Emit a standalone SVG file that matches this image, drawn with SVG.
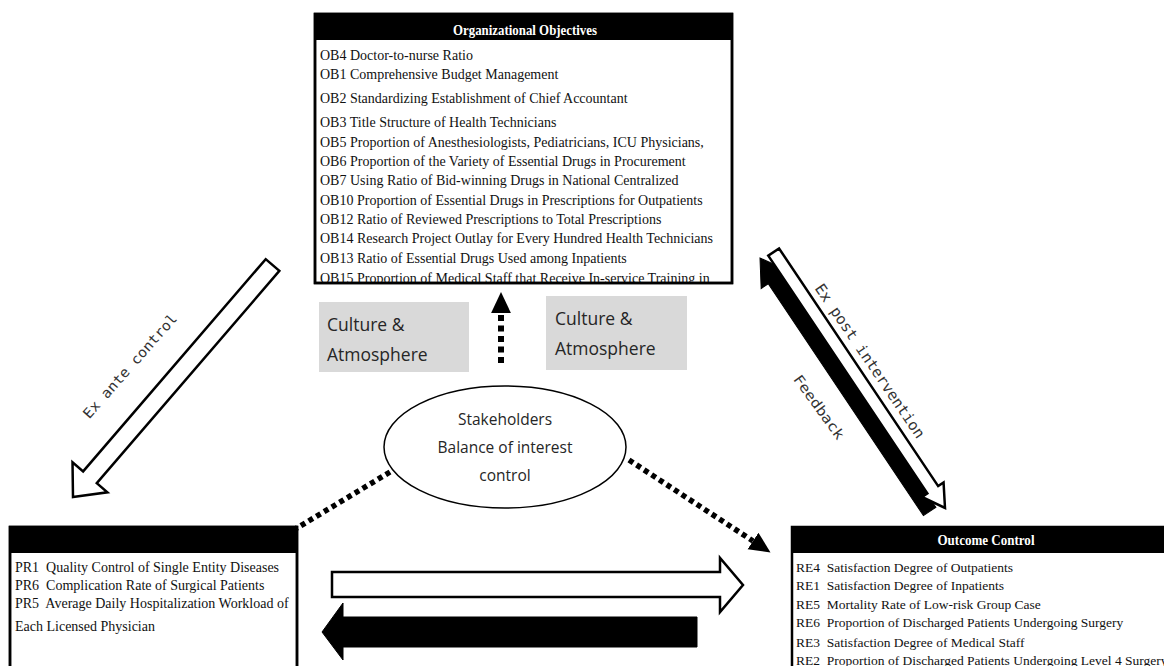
<svg xmlns="http://www.w3.org/2000/svg" width="1164" height="666" viewBox="0 0 1164 666">
<style>
.box{fill:#fff;stroke:#000;stroke-width:2.5}
.hd{fill:#000}
.ht{font-family:"Liberation Serif","Times New Roman",serif;font-weight:bold;font-size:14px;fill:#fff;text-anchor:middle}
.t{font-family:"Liberation Serif","Times New Roman",serif;font-size:14px;fill:#111}
.r{font-family:"Liberation Serif","Times New Roman",serif;font-size:13.5px;fill:#111}
.cb{fill:#d9d9d9}
.ct{font-family:"Open Sans","Noto Sans",sans-serif;font-size:17.5px;fill:#262626}
.et{font-family:"Open Sans","Noto Sans",sans-serif;font-size:15.5px;fill:#262626;text-anchor:middle}
.lb{font-family:"DejaVu Sans Mono","Liberation Mono",monospace;font-size:14px;fill:#333;text-anchor:middle}
.wa{fill:#fff;stroke:#000;stroke-width:2.5;stroke-linejoin:miter}
.ba{fill:#000;stroke:#000;stroke-width:1}
.dot{fill:none;stroke:#000;stroke-width:5.5;stroke-dasharray:5 4}
</style>
<defs>
<clipPath id="clipTop"><rect x="316" y="15" width="415" height="267"/></clipPath>
<clipPath id="clipLeft"><rect x="11" y="528" width="285" height="140"/></clipPath>
<marker id="tri" markerUnits="userSpaceOnUse" markerWidth="22" markerHeight="22" viewBox="0 -10 20 20" refX="0" refY="0" orient="auto">
<path d="M0,-9 L19,0 L0,9 z" fill="#000"/>
</marker>
</defs>
<rect width="1164" height="666" fill="#fff"/>

<g id="connectors">
<polygon class="wa" points="0,0 -26,-23 -26,-9 -306,-9 -306,9 -26,9 -26,23" transform="translate(73,497) rotate(130.7)"/>
<text class="lb" textLength="134" lengthAdjust="spacingAndGlyphs" dy="0.35em" transform="translate(130,366) rotate(-48.6)">Ex ante control</text>
<polygon class="ba" points="0,0 -26,-16 -26,-7.5 -305,-7.5 -305,7.5 -26,7.5 -26,16" transform="translate(760,258) rotate(236.2)"/>
<polygon class="wa" points="0,0 -22,-13 -22,-6.5 -308,-6.5 -308,6.5 -22,6.5 -22,13" transform="translate(945,508) rotate(56.2)"/>
<text class="lb" style="font-size:15px" textLength="183" lengthAdjust="spacingAndGlyphs" dy="0.35em" transform="translate(870,361) rotate(55.8)">Ex post intervention</text>
<text class="lb" textLength="76" lengthAdjust="spacingAndGlyphs" dy="0.35em" transform="translate(819,407) rotate(54)">Feedback</text>
<line class="dot" style="stroke-width:6;stroke-dasharray:6 4.5" x1="501" y1="363" x2="501" y2="313" marker-end="url(#tri)"/>
<line class="dot" x1="390" y1="472" x2="292" y2="531"/>
<line class="dot" x1="629" y1="460" x2="753" y2="541" marker-end="url(#tri)"/>
<polygon class="wa" points="332,572 720,572 720,558 743,585 720,612 720,597 332,597"/>
<polygon class="ba" points="697,617 343,617 343,603 322,632 343,660 343,647 697,647"/>
</g>

<g id="objectives">
<rect class="box" x="315" y="14" width="417" height="269"/>
<rect class="hd" x="315" y="14" width="417" height="26"/>
<text class="ht" x="525" y="35" textLength="144" lengthAdjust="spacingAndGlyphs">Organizational Objectives</text>
<g clip-path="url(#clipTop)">
<text class="t" x="320" y="60">OB4 Doctor-to-nurse Ratio</text>
<text class="t" x="320" y="79">OB1 Comprehensive Budget Management</text>
<text class="t" x="320" y="103">OB2 Standardizing Establishment of Chief Accountant</text>
<text class="t" x="320" y="127">OB3 Title Structure of Health Technicians</text>
<text class="t" x="320" y="147">OB5 Proportion of Anesthesiologists, Pediatricians, ICU Physicians,</text>
<text class="t" x="320" y="166">OB6 Proportion of the Variety of Essential Drugs in Procurement</text>
<text class="t" x="320" y="185">OB7 Using Ratio of Bid-winning Drugs in National Centralized</text>
<text class="t" x="320" y="205">OB10 Proportion of Essential Drugs in Prescriptions for Outpatients</text>
<text class="t" x="320" y="224">OB12 Ratio of Reviewed Prescriptions to Total Prescriptions</text>
<text class="t" x="320" y="243">OB14 Research Project Outlay for Every Hundred Health Technicians</text>
<text class="t" x="320" y="263">OB13 Ratio of Essential Drugs Used among Inpatients</text>
<text class="t" x="320" y="283">OB15 Proportion of Medical Staff that Receive In-service Training in</text>
</g>
<rect x="315" y="14" width="417" height="269" fill="none" stroke="#000" stroke-width="2.5"/>
</g>

<g id="culture-left">
<rect class="cb" x="319" y="302" width="150" height="70"/>
<text class="ct" x="327" y="331">Culture &amp;</text>
<text class="ct" x="327" y="361">Atmosphere</text>
</g>
<g id="culture-right">
<rect class="cb" x="546" y="296" width="141" height="74"/>
<text class="ct" x="555" y="325">Culture &amp;</text>
<text class="ct" x="555" y="355">Atmosphere</text>
</g>

<g id="stakeholders">
<ellipse cx="505" cy="447" rx="121" ry="61" fill="#fff" stroke="#000" stroke-width="1.5"/>
<text class="et" x="505" y="425">Stakeholders</text>
<text class="et" x="505" y="453">Balance of interest</text>
<text class="et" x="505" y="481">control</text>
</g>

<g id="process">
<rect class="box" x="10" y="527" width="287" height="150"/>
<rect class="hd" x="10" y="527" width="287" height="26"/>
<g clip-path="url(#clipLeft)">
<text class="t" x="15" y="572" xml:space="preserve">PR1  Quality Control of Single Entity Diseases</text>
<text class="t" x="15" y="590" xml:space="preserve">PR6  Complication Rate of Surgical Patients</text>
<text class="t" x="15" y="608" xml:space="preserve">PR5  Average Daily Hospitalization Workload of</text>
<text class="t" x="15" y="631">Each Licensed Physician</text>
</g>
<rect x="10" y="527" width="287" height="150" fill="none" stroke="#000" stroke-width="2.5"/>
</g>

<g id="outcome">
<rect class="box" x="792" y="527" width="400" height="150"/>
<rect class="hd" x="792" y="527" width="400" height="26"/>
<text class="ht" x="986" y="545" textLength="97" lengthAdjust="spacingAndGlyphs">Outcome Control</text>
<text class="r" x="796" y="572" xml:space="preserve">RE4  Satisfaction Degree of Outpatients</text>
<text class="r" x="796" y="590" xml:space="preserve">RE1  Satisfaction Degree of Inpatients</text>
<text class="r" x="796" y="609" xml:space="preserve">RE5  Mortality Rate of Low-risk Group Case</text>
<text class="r" x="796" y="627" xml:space="preserve">RE6  Proportion of Discharged Patients Undergoing Surgery</text>
<text class="r" x="796" y="647" xml:space="preserve">RE3  Satisfaction Degree of Medical Staff</text>
<text class="r" x="796" y="665" xml:space="preserve">RE2  Proportion of Discharged Patients Undergoing Level 4 Surgery</text>
</g>
</svg>
